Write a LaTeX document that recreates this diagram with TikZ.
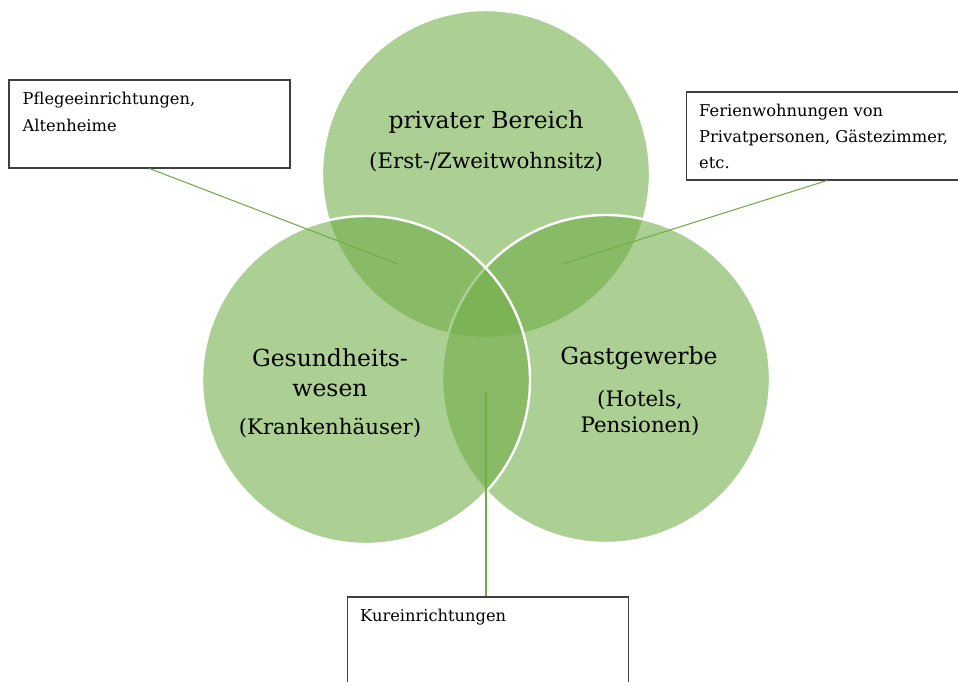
\documentclass[tikz,border=0pt]{standalone}
\usepackage{fontspec}
\setmainfont{DejaVu Serif}
\usetikzlibrary{positioning}
\definecolor{venngreen}{RGB}{112,173,71}
\definecolor{boxgray}{RGB}{64,64,64}
\begin{document}
\begin{tikzpicture}[x=0.75pt,y=-0.75pt]
        \tikzstyle{venn_circle} = [circle,minimum size=246pt,inner sep=0pt,fill=venngreen,fill opacity=0.58,draw=white,line width=1.8pt]
        \tikzstyle{venn_title} = [font=\fontsize{17.6}{22.5}\selectfont,align=center]
        \tikzstyle{venn_sub} = [font=\fontsize{16}{19}\selectfont,align=center]
        \tikzstyle{note_box} = [draw=boxgray,line width=0.8pt,minimum width=210.75pt,minimum height=66pt,inner sep=0pt]
        \tikzstyle{note_text} = [font=\fontsize{12.2}{19.8}\selectfont,align=left,inner sep=0pt]
        \tikzstyle{pointer} = [draw=venngreen,line width=0.8pt]
        \useasboundingbox (0,0) rectangle (958,682);
        \node[venn_circle] (privat) at (486,174) {};
        \node[venn_circle] (gast) at (606,379) {};
        \node[venn_circle] (gesund) at (366,380) {};
        \node[venn_title] (privat_title) at (486,122) {privater Bereich};
        \node[venn_sub] (privat_sub) at (486,162) {(Erst-/Zweitwohnsitz)};
        \node[venn_title] (gesund_title) at (330,373) {Gesundheits-\\wesen};
        \node[venn_sub] (gesund_sub) at (330,428) {(Krankenhäuser)};
        \node[venn_title] (gast_title) at (639,358) {Gastgewerbe};
        \node[venn_sub] (gast_sub) at (640,413) {(Hotels,\\Pensionen)};
        \node[note_box] (pflege) at (149.5,124) {};
        \node[note_box] (ferien) at (827,136) {};
        \node[note_box] (kure) at (488,641) {};
        \node[note_text,below right=9.5pt and 10.5pt of pflege.north west] (pflege_text) {Pflegeeinrichtungen,\\Altenheime};
        \node[note_text,below right=9pt and 9.75pt of ferien.north west] (ferien_text) {Ferienwohnungen von\\Privatpersonen, Gästezimmer,\\etc.};
        \node[note_text,below right=9.5pt and 9.75pt of kure.north west] (kure_text) {Kureinrichtungen};
        \coordinate (pflege_end) at (398,264);
        \coordinate (ferien_end) at (562,264);
        \coordinate (kure_end) at (486,392);
        \draw[pointer] (pflege.south) -- (pflege_end);
        \draw[pointer] (ferien.south) -- (ferien_end);
        \draw[pointer] (kure_end) -- (kure_end |- kure.north);
      \end{tikzpicture}
\end{document}
